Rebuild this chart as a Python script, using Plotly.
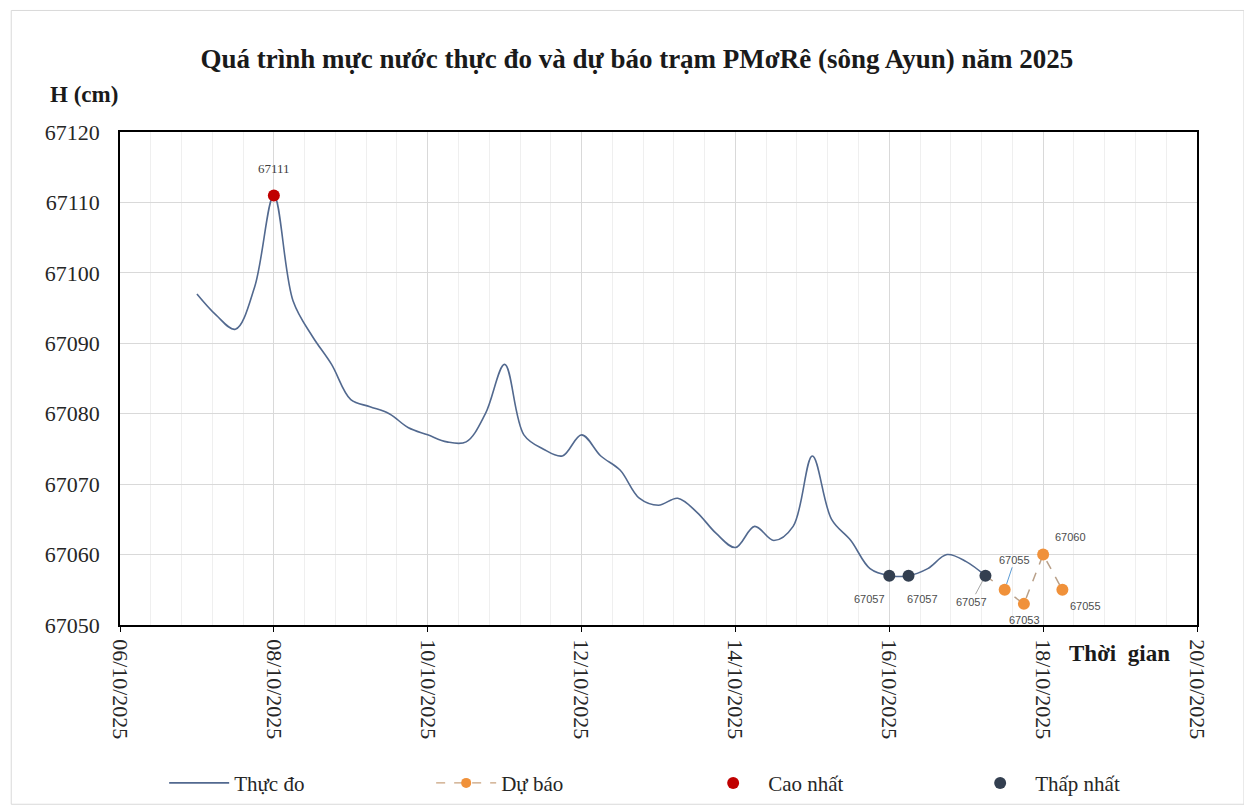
import plotly.graph_objects as go

# ---------------- data ----------------
obs_time = [
    "2025-10-07 00:00", "2025-10-07 06:00", "2025-10-07 12:00", "2025-10-07 18:00",
    "2025-10-08 00:00", "2025-10-08 06:00", "2025-10-08 12:00", "2025-10-08 18:00",
    "2025-10-09 00:00", "2025-10-09 06:00", "2025-10-09 12:00", "2025-10-09 18:00",
    "2025-10-10 00:00", "2025-10-10 06:00", "2025-10-10 12:00", "2025-10-10 18:00",
    "2025-10-11 00:00", "2025-10-11 06:00", "2025-10-11 12:00", "2025-10-11 18:00",
    "2025-10-12 00:00", "2025-10-12 06:00", "2025-10-12 12:00", "2025-10-12 18:00",
    "2025-10-13 00:00", "2025-10-13 06:00", "2025-10-13 12:00", "2025-10-13 18:00",
    "2025-10-14 00:00", "2025-10-14 06:00", "2025-10-14 12:00", "2025-10-14 18:00",
    "2025-10-15 00:00", "2025-10-15 06:00", "2025-10-15 12:00", "2025-10-15 18:00",
    "2025-10-16 00:00", "2025-10-16 06:00", "2025-10-16 12:00", "2025-10-16 18:00",
    "2025-10-17 00:00", "2025-10-17 06:00",
]
obs_level = [
    67097, 67094, 67092, 67098,
    67111, 67096, 67091, 67087,
    67082, 67081, 67080, 67078,
    67077, 67076, 67076, 67080,
    67087, 67077, 67075, 67074,
    67077, 67074, 67072, 67068,
    67067, 67068, 67066, 67063,
    67061, 67064, 67062, 67064,
    67074, 67065, 67062, 67058,
    67057, 67057, 67058, 67060,
    67059, 67057,
]
fc_time = ["2025-10-17 06:00", "2025-10-17 12:00", "2025-10-17 18:00",
           "2025-10-18 00:00", "2025-10-18 06:00"]
fc_level = [67057, 67055, 67053, 67060, 67055]

title_text = "Quá trình mực nước thực đo và dự báo trạm PMơRê (sông Ayun) năm 2025"
y_title = "H (cm)"
x_title = "Thời  gian"
series_names = ["Thực đo", "Dự báo", "Cao nhất", "Thấp nhất"]

# max / min of the observed series
hi = max(obs_level)
lo = min(obs_level)
hi_time = [t for t, v in zip(obs_time, obs_level) if v == hi]
hi_val = [v for v in obs_level if v == hi]
lo_time = [t for t, v in zip(obs_time, obs_level) if v == lo]
lo_val = [v for v in obs_level if v == lo]

# ---------------- style ----------------
SERIF = "Liberation Serif, Times New Roman, serif"
SANS = "Liberation Sans, Arial, sans-serif"
DAY = 86400000

fig = go.Figure()
fig.add_trace(go.Scatter(
    x=obs_time, y=obs_level, mode="lines", name=series_names[0],
    line=dict(color="#52698F", width=1.6, shape="spline", smoothing=1.0),
))
fig.add_trace(go.Scatter(
    x=fc_time, y=fc_level, mode="lines", name=series_names[1],
    line=dict(color="#B9A089", width=1.5, dash="dash"), showlegend=False,
))
# legend-only entry for the forecast (line + marker)
fig.add_trace(go.Scatter(
    x=[None], y=[None], mode="lines+markers", name=series_names[1],
    line=dict(color="#C9A27E", width=1.4, dash="dash"),
    marker=dict(color="#F0913A", size=10),
))
fig.add_trace(go.Scatter(
    x=fc_time[1:], y=fc_level[1:], mode="markers", showlegend=False,
    marker=dict(color="#F0913A", size=12), hoverinfo="skip",
))
fig.add_trace(go.Scatter(
    x=hi_time, y=hi_val, mode="markers", name=series_names[2],
    marker=dict(color="#C00000", size=12),
))
fig.add_trace(go.Scatter(
    x=lo_time, y=lo_val, mode="markers", name=series_names[3],
    marker=dict(color="#333F50", size=12),
))

# ---------------- data labels ----------------
lab_font = dict(family=SANS, size=11, color="#4D4D4D")
for t, v in zip(hi_time, hi_val):
    fig.add_annotation(x=t, y=v, text=str(v), showarrow=False, yshift=27,
                       font=dict(family=SERIF, size=13, color="#404040"))
lo_offsets = [(-20, -23, False), (14, -23, False), (-14, 26, True)]
for (t, v), (dx, dy, arrow) in zip(zip(lo_time, lo_val), lo_offsets):
    if arrow:
        fig.add_annotation(x=t, y=v, text=str(v), showarrow=True, ax=dx, ay=dy,
                           arrowhead=0, arrowwidth=1, arrowcolor="#A6A6A6",
                           standoff=6, font=lab_font)
    else:
        fig.add_annotation(x=t, y=v, text=str(v), showarrow=False,
                           xshift=dx, yshift=dy, font=lab_font)
fc_offsets = [(10, -30, True), (1, -16, False), (27, 18, False), (23, -16, False)]
for (t, v), (dx, dy, arrow) in zip(zip(fc_time[1:], fc_level[1:]), fc_offsets):
    if arrow:
        fig.add_annotation(x=t, y=v, text=str(v), showarrow=True, ax=dx, ay=dy,
                           arrowhead=0, arrowwidth=1, arrowcolor="#5B9BD5",
                           standoff=6, font=lab_font)
    else:
        fig.add_annotation(x=t, y=v, text=str(v), showarrow=False,
                           xshift=dx, yshift=dy, font=lab_font)

# axis titles
fig.add_annotation(text="<b>" + y_title + "</b>", xref="paper", yref="paper",
                   x=-0.033, y=1.077, xanchor="center", yanchor="middle",
                   showarrow=False,
                   font=dict(family=SERIF, size=23, color="#1a1a1a"))
fig.add_annotation(text="<b>" + x_title + "</b>", xref="paper", yref="paper",
                   x=0.928, y=-0.057, xanchor="center", yanchor="middle",
                   showarrow=False,
                   font=dict(family=SERIF, size=23, color="#1a1a1a"))

# outer chart border
fig.add_shape(type="rect", xref="paper", yref="paper",
              x0=-0.101, x1=1.0436, y0=-0.3636, y1=1.2465,
              line=dict(color="#D9D9D9", width=1), fillcolor="rgba(0,0,0,0)")

fig.update_layout(
    width=1244, height=802,
    margin=dict(l=112, r=55, t=124, b=185, autoexpand=False),
    paper_bgcolor="white", plot_bgcolor="white",
    title=dict(text="<b>" + title_text + "</b>", x=0.5056, xref="container",
               y=0.937, yref="container", xanchor="center", yanchor="middle",
               font=dict(family=SERIF, size=27, color="#1a1a1a")),
    font=dict(family=SERIF, color="#262626"),
    showlegend=True,
    legend=dict(orientation="h", x=0.041, y=-0.321, xanchor="left", yanchor="middle",
                entrywidth=192, entrywidthmode="pixels", itemwidth=60,
                font=dict(family=SERIF, size=21, color="#262626"),
                bgcolor="rgba(0,0,0,0)", traceorder="normal"),
)
fig.update_xaxes(
    type="date", range=["2025-10-06", "2025-10-20"],
    tick0="2025-10-06", dtick=2 * DAY, tickformat="%d/%m/%Y", tickangle=90,
    tickfont=dict(family=SERIF, size=22, color="#262626"),
    showgrid=True, gridcolor="#D9D9D9", gridwidth=1,
    minor=dict(tick0="2025-10-06", dtick=0.4 * DAY, showgrid=True,
               gridcolor="#EFEFEF", gridwidth=1),
    ticks="outside", ticklen=5, tickcolor="#000000", ticklabelstandoff=3,
    showline=True, linecolor="#000000", linewidth=1.5, mirror=True,
    zeroline=False, automargin=False,
)
fig.update_yaxes(
    range=[67050, 67120], dtick=10, tick0=67050,
    tickfont=dict(family=SERIF, size=22, color="#262626"),
    showgrid=True, gridcolor="#D9D9D9", gridwidth=1,
    ticks="", ticklabelstandoff=14,
    showline=True, linecolor="#000000", linewidth=1.5, mirror=True,
    zeroline=False, tickformat="d", automargin=False,
)

fig.write_html("out.html")
